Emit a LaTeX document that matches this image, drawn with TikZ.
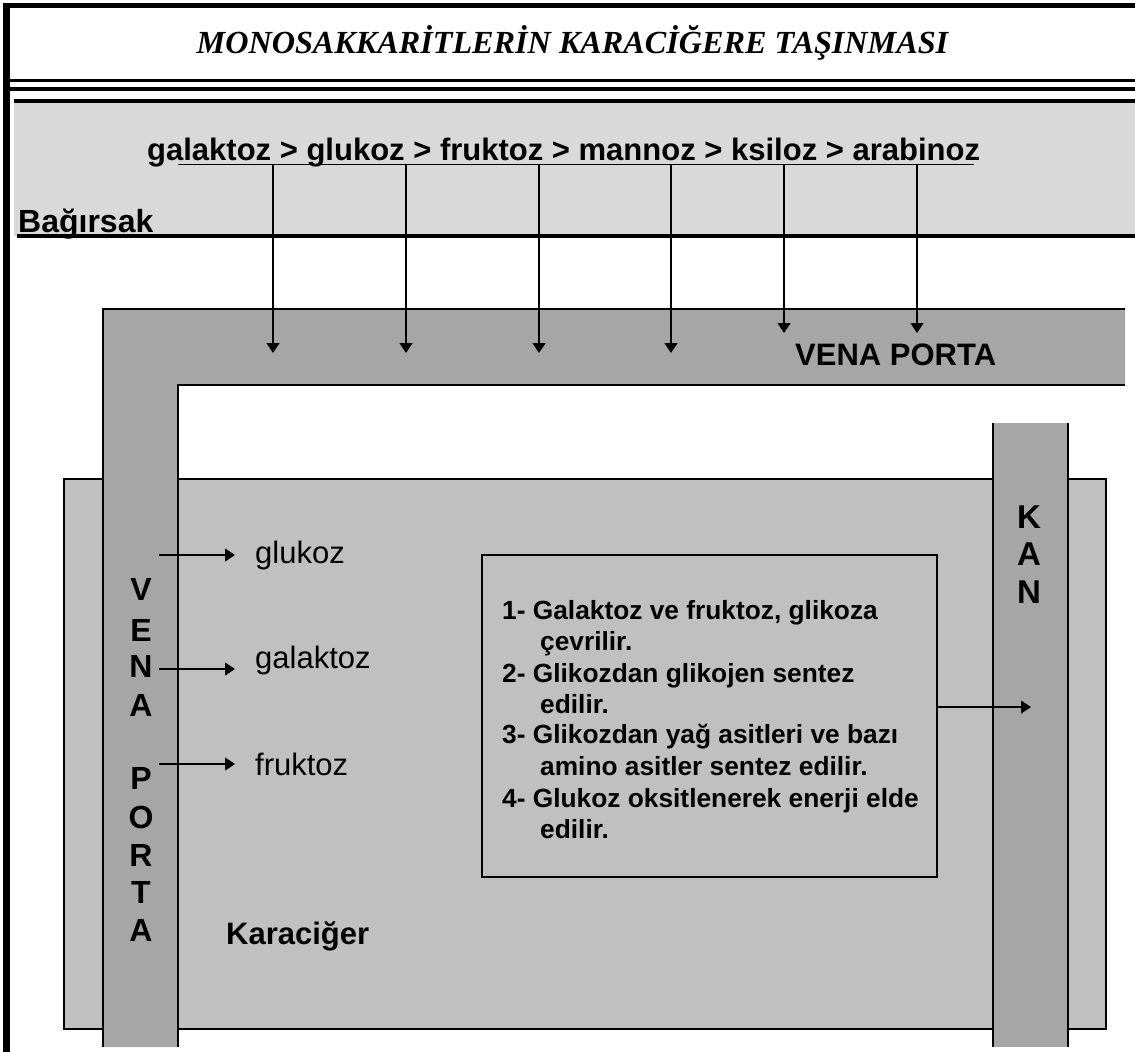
\documentclass[tikz,border=0pt]{standalone}
\usepackage{fontspec}
\setmainfont{Liberation Sans}
\newfontfamily\titleserif{Liberation Serif}
\usetikzlibrary{arrows.meta}
\definecolor{gutgray}{HTML}{D9D9D9}
\definecolor{veingray}{HTML}{A6A6A6}
\definecolor{livergray}{HTML}{C0C0C0}

\begin{document}
\begin{tikzpicture}[x=1pt,y=-1pt,
  flow/.style={line width=1.3pt,-{Triangle[width=13pt,length=10pt]}},
  wall/.style={line width=2.4pt},
  frameline/.style={line width=#1, line cap=butt},
  plainlbl/.style={inner sep=0pt, font=\fontsize{31}{37}\selectfont},
  boldlbl/.style={inner sep=0pt, font=\fontsize{31}{37}\selectfont\bfseries},
  letter/.style={inner sep=0pt, font=\fontsize{32}{38}\selectfont\bfseries},
  steptext/.style={inner sep=0pt, anchor=base west, font=\fontsize{26.3}{31}\selectfont\bfseries}]

\useasboundingbox (0,0) rectangle (1135,1052);

% page frame and title rules
\draw[frameline=6.5pt] (6.5,3) -- (6.5,1052);
\draw[frameline=5pt] (3.25,5.8) -- (1135,5.8);
\draw[frameline=3.5pt] (10,80.7) -- (1135,80.7);
\draw[frameline=3.5pt] (10,89) -- (1135,89);

\node[inner sep=0pt, anchor=base, font=\titleserif\fontsize{32.2}{39}\selectfont\bfseries\itshape]
  (title) at (572.5,53) {MONOSAKKARİTLERİN KARACİĞERE TAŞINMASI};

% intestine band
\fill[gutgray] (14,100.5) rectangle (1135,236.3);
\draw[frameline=4pt] (14,100.5) -- (1135,100.5);
\draw[frameline=4pt] (16.7,236.3) -- (1135,236.3);
\node[boldlbl, anchor=base west, font=\fontsize{32}{38}\selectfont\bfseries] (gut) at (18,232) {Bağırsak};

\node[boldlbl, anchor=base west] (order) at (147,160)
  {galaktoz > glukoz > fruktoz > mannoz > ksiloz > arabinoz};
\coordinate (ulL) at (178,164.5);
\coordinate (ulR) at (974,164.5);
\draw[line width=1.5pt] (ulL) -- (ulR);

% liver
\draw[livergray, fill=livergray] (64,479) rectangle (1106,1029);
\draw[line width=2.2pt] (64,479) rectangle (1106,1029);

% vena porta (L-shaped vessel)
\fill[veingray] (103,309) -- (1125,309) -- (1125,385) -- (178,385) -- (178,1047) -- (103,1047) -- cycle;
\draw[wall] (103,1047) -- (103,309) -- (1125,309);
\draw[wall] (178,1047) -- (178,385) -- (1125,385);

% blood vessel
\fill[veingray] (993,423) rectangle (1068,1047);
\draw[wall] (993,423) -- (993,1047);
\draw[wall] (1068,423) -- (1068,1047);

% absorption arrows into the vena porta
\foreach \n/\x/\y in {1/273/353, 2/406/353, 3/539/353, 4/671/353, 5/784/333, 6/917/333} {
  \coordinate (top\n) at (\x,164.5);
  \coordinate (vp\n) at (\x,\y);
  \draw[flow] (top\n) -- (vp\n);
}

\node[boldlbl, anchor=base west] (vphead) at (795,365) {VENA PORTA};

% vertical vessel labels
\foreach \n/\c/\y in {1/V/589, 2/E/630, 3/N/666, 4/A/705, 5/P/778, 6/O/817, 7/R/855, 8/T/892, 9/A/930}
  \node[letter] (vl\n) at (141,\y) {\c};
\foreach \n/\c/\y in {1/K/517, 2/A/554, 3/N/592}
  \node[letter, font=\fontsize{33}{39}\selectfont\bfseries] (kl\n) at (1029,\y) {\c};

% sugars delivered to the liver
\node[plainlbl, anchor=base west] (glu) at (255,563) {glukoz};
\node[plainlbl, anchor=base west] (gal) at (255,668) {galaktoz};
\node[plainlbl, anchor=base west] (fru) at (255,775) {fruktoz};
\foreach \n/\y in {glu/555, gal/669, fru/764} {
  \coordinate (\n s) at (159,\y);
  \coordinate (\n e) at (235,\y);
  \draw[flow] (\n s) -- (\n e);
}

\node[boldlbl, anchor=base west] (liver) at (226,944) {Karaciğer};

% metabolic fates box
\node[draw, line width=1.5pt, fill=livergray, minimum width=455pt, minimum height=322pt, inner sep=0pt]
  (fates) at (709.5,716) {};
\node[steptext] (s1) at (502,619) {1- Galaktoz ve fruktoz, glikoza};
\node[steptext] (s1b) at (540,650) {çevrilir.};
\node[steptext] (s2) at (502,682) {2- Glikozdan glikojen sentez};
\node[steptext] (s2b) at (540,713) {edilir.};
\node[steptext] (s3) at (502,743) {3- Glikozdan yağ asitleri ve bazı};
\node[steptext] (s3b) at (540,775) {amino asitler sentez edilir.};
\node[steptext] (s4) at (502,807) {4- Glukoz oksitlenerek enerji elde};
\node[steptext] (s4b) at (540,838) {edilir.};

\coordinate (kanin) at (1031,707);
\draw[flow] (fates.east |- kanin) -- (kanin);
\end{tikzpicture}
\end{document}
